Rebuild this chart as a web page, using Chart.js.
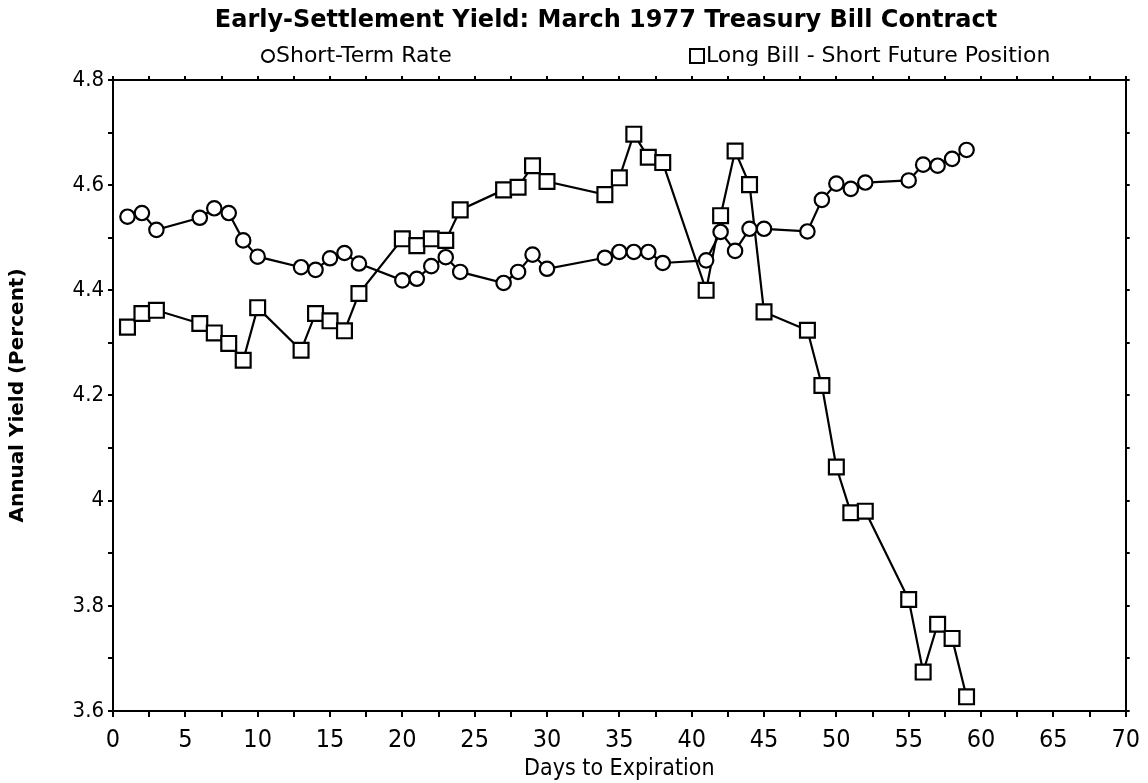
<!DOCTYPE html>
<html>
<head>
<meta charset="utf-8">
<title>Early-Settlement Yield</title>
<script src="https://cdn.jsdelivr.net/npm/chart.js@4.4.1/dist/chart.umd.min.js"></script>
<style>
  html, body { margin: 0; padding: 0; background: #fff; }
  #wrap { width: 1148px; height: 783px; position: relative; }
</style>
</head>
<body>
<div id="wrap"><canvas id="yieldChart" width="1148" height="783"></canvas></div>
<script>
const chartTitle = "Early-Settlement Yield: March 1977 Treasury Bill Contract";

// days to expiration, same for both series
const days = [1, 2, 3, 6, 7, 8, 9, 10, 13, 14, 15, 16, 17, 20, 21, 22, 23, 24, 27, 28, 29, 30,
  34, 35, 36, 37, 38, 41, 42, 43, 44, 45, 48, 49, 50, 51, 52, 55, 56, 57, 58, 59];

const shortRate = [4.540, 4.547, 4.515, 4.538, 4.556, 4.547, 4.495, 4.464, 4.444, 4.439, 4.461,
  4.471, 4.451, 4.419, 4.422, 4.446, 4.463, 4.435, 4.414, 4.435, 4.468, 4.441, 4.462, 4.473,
  4.473, 4.473, 4.452, 4.457, 4.511, 4.475, 4.517, 4.517, 4.512, 4.572, 4.603, 4.593, 4.605,
  4.609, 4.639, 4.637, 4.650, 4.667];

const longBill = [4.330, 4.356, 4.362, 4.337, 4.319, 4.299, 4.267, 4.367, 4.286, 4.356, 4.342,
  4.323, 4.394, 4.498, 4.485, 4.498, 4.495, 4.553, 4.591, 4.596, 4.637, 4.607, 4.582, 4.614,
  4.697, 4.653, 4.643, 4.400, 4.542, 4.665, 4.601, 4.359, 4.324, 4.219, 4.064, 3.977, 3.980,
  3.812, 3.674, 3.765, 3.738, 3.627];

const xMin = 0, xMax = 70, xStep = 2.5, xLabelEvery = 5;
const yMin = 3.6, yMax = 4.8, yStep = 0.1;

const ink = "#000";
const condFont = "'DejaVu Sans Condensed', 'DejaVu Sans', sans-serif";
const wideFont = "'DejaVu Sans', sans-serif";

const toPoints = vals => days.map((d, i) => ({ x: d, y: vals[i] }));

// title and the two-item legend above the plot
const headerPlugin = {
  id: "header",
  afterDraw(chart) {
    const c = chart.ctx;
    c.save();
    c.fillStyle = ink;
    c.strokeStyle = ink;
    c.textBaseline = "middle";
    c.textAlign = "center";
    c.font = "bold 24px " + wideFont;
    c.fillText(chartTitle, 606, 21);

    c.font = "22px " + wideFont;
    c.textAlign = "left";
    c.lineWidth = 2;
    const ds = chart.data.datasets;
    // circle item
    c.beginPath();
    c.arc(268, 56, 6, 0, Math.PI * 2);
    c.stroke();
    c.fillText(ds[0].label, 276, 56);
    // square item
    c.strokeRect(690, 49, 14, 14);
    c.fillText(ds[1].label, 706, 56);
    c.restore();
  }
};

const fixSize = (prop, v) => scale => { scale[prop] = v; };

new Chart(document.getElementById("yieldChart"), {
  type: "line",
  data: {
    datasets: [
      {
        label: "Short-Term Rate",
        data: toPoints(shortRate),
        borderColor: ink,
        borderWidth: 2.2,
        pointStyle: "circle",
        pointRadius: 7.2,
        pointBorderWidth: 2.2,
        pointBorderColor: ink,
        pointBackgroundColor: "#fff",
        tension: 0,
        fill: false
      },
      {
        label: "Long Bill - Short Future Position",
        data: toPoints(longBill),
        borderColor: ink,
        borderWidth: 2.2,
        pointStyle: "rect",
        pointRadius: 10.5,
        pointBorderWidth: 2.2,
        pointBorderColor: ink,
        pointBackgroundColor: "#fff",
        tension: 0,
        fill: false
      }
    ]
  },
  options: {
    responsive: false,
    animation: false,
    layout: { padding: 0 },
    plugins: {
      legend: { display: false },
      title: { display: false },
      tooltip: { enabled: false }
    },
    scales: {
      x: {
        type: "linear",
        position: "bottom",
        min: xMin, max: xMax,
        afterFit: fixSize("height", 72),
        ticks: {
          stepSize: xStep,
          autoSkip: false,
          maxRotation: 0,
          color: ink,
          padding: 8,
          font: { family: condFont, size: 25 },
          callback: v => (v % xLabelEvery === 0 ? String(v) : "")
        },
        grid: { drawOnChartArea: false, color: ink, lineWidth: 2, tickLength: 6 },
        border: { color: ink, width: 2 },
        title: {
          display: true,
          text: "Days to Expiration",
          color: ink,
          font: { family: condFont, size: 23 },
          padding: { top: 2, bottom: 0 }
        }
      },
      xTop: {
        type: "linear",
        position: "top",
        min: xMin, max: xMax,
        afterFit: fixSize("height", 80),
        ticks: { stepSize: xStep, autoSkip: false, display: false },
        grid: { drawOnChartArea: false, color: ink, lineWidth: 2, tickLength: 4 },
        border: { color: ink, width: 2 }
      },
      y: {
        type: "linear",
        position: "left",
        min: yMin, max: yMax,
        afterFit: fixSize("width", 113),
        ticks: {
          stepSize: yStep,
          autoSkip: false,
          color: ink,
          padding: 4,
          font: { family: condFont, size: 22 },
          callback: v => (Math.round(v * 10) % 2 === 0 ? String(Number(v.toFixed(1))) : "")
        },
        grid: { drawOnChartArea: false, color: ink, lineWidth: 2, tickLength: 5 },
        border: { color: ink, width: 2 },
        title: {
          display: true,
          text: "Annual Yield (Percent)",
          color: ink,
          font: { family: wideFont, size: 20, weight: "bold" },
          padding: { top: 6, bottom: 0 }
        }
      },
      yRight: {
        type: "linear",
        position: "right",
        min: yMin, max: yMax,
        afterFit: fixSize("width", 20),
        ticks: { stepSize: yStep, autoSkip: false, display: false },
        grid: { drawOnChartArea: false, color: ink, lineWidth: 2, tickLength: 4 },
        border: { color: ink, width: 2 }
      }
    }
  },
  plugins: [headerPlugin]
});
</script>
</body>
</html>
